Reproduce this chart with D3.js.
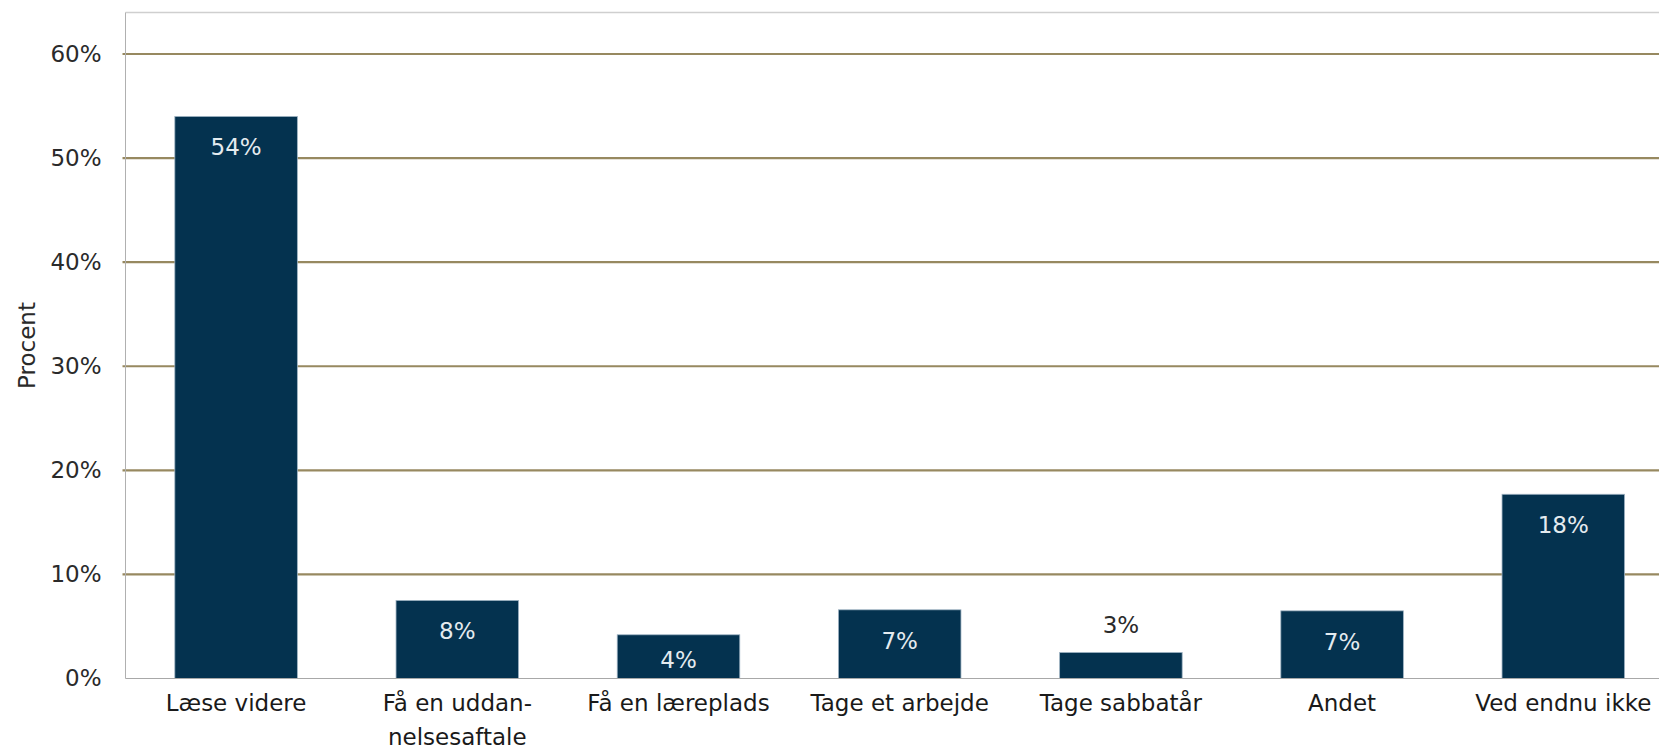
<!DOCTYPE html>
<html>
<head>
<meta charset="utf-8">
<script src="https://cdn.jsdelivr.net/npm/d3@7"></script>
<style>
  html, body { margin: 0; padding: 0; background: #fff; }
  svg { display: block; }
  text { font-family: "DejaVu Sans", Verdana, sans-serif; }
</style>
</head>
<body>
<svg id="chart" width="1659" height="752"></svg>
<script>
const categories = ["Læse videre", "Få en uddan-\nnelsesaftale", "Få en læreplads", "Tage et arbejde", "Tage sabbatår", "Andet", "Ved endnu ikke"];
const values = [54.0, 7.5, 4.2, 6.6, 2.5, 6.5, 17.7];
const valueLabels = ["54%", "8%", "4%", "7%", "3%", "7%", "18%"];
const yTicks = [0, 10, 20, 30, 40, 50, 60];
const yTickLabels = ["0%", "10%", "20%", "30%", "40%", "50%", "60%"];
const yTitle = "Procent";

const svg = d3.select("#chart");
const W = 1659, H = 752;
const plotLeft = 125.5, plotTop = 12.5, plotBottom = 678.5, step = 221.2;
const plotRight = plotLeft + step * categories.length;

const x = d3.scaleBand().domain(categories).range([plotLeft, plotRight])
  .paddingInner(0.446).paddingOuter(0.223);
const y = d3.scaleLinear().domain([0, 60]).range([plotBottom, 54]);

// top frame line
svg.append("line").attr("x1", plotLeft).attr("x2", W + 20)
  .attr("y1", plotTop).attr("y2", plotTop)
  .attr("stroke", "#cfcfcf").attr("stroke-width", 1.5);

// gridlines
const grid = svg.append("g");
grid.selectAll("line").data(yTicks.filter(d => d > 0)).join("line")
  .attr("x1", plotLeft - 3).attr("x2", W + 20)
  .attr("y1", d => y(d)).attr("y2", d => y(d))
  .attr("stroke", "#978960").attr("stroke-width", 2.2);

// y axis via d3
const yAxis = d3.axisLeft(y).tickValues(yTicks)
  .tickFormat((d, i) => yTickLabels[i]).tickSize(0).tickPadding(24);
const yg = svg.append("g").attr("transform", `translate(${plotLeft},0)`).call(yAxis);
yg.select(".domain").remove();
yg.selectAll("text").attr("font-size", 23).attr("fill", "#2a2a2a")
  .attr("font-family", "DejaVu Sans, Verdana, sans-serif");

// left axis line
svg.append("line").attr("x1", plotLeft).attr("x2", plotLeft)
  .attr("y1", plotTop).attr("y2", plotBottom)
  .attr("stroke", "#b0b0b0").attr("stroke-width", 1);

// bars
svg.append("g").selectAll("rect").data(values).join("rect")
  .attr("x", (d, i) => x(categories[i]))
  .attr("y", d => y(d))
  .attr("width", x.bandwidth())
  .attr("height", d => plotBottom - y(d))
  .attr("fill", "#04324f")
  .attr("stroke", "#9fb3c3").attr("stroke-width", 0.8);

// baseline
svg.append("line").attr("x1", plotLeft).attr("x2", W + 20)
  .attr("y1", plotBottom).attr("y2", plotBottom)
  .attr("stroke", "#a8a8a8").attr("stroke-width", 1.2);

// value labels
const inside = d => (plotBottom - y(d)) > 32;
svg.append("g").selectAll("text").data(values).join("text")
  .attr("x", (d, i) => x(categories[i]) + x.bandwidth() / 2)
  .attr("y", d => inside(d) ? Math.min(y(d) + 39, plotBottom - 11) : y(d) - 19)
  .attr("text-anchor", "middle")
  .attr("font-size", 23)
  .attr("fill", d => inside(d) ? "#e4ebef" : "#2a2a2a")
  .text((d, i) => valueLabels[i]);

// category labels
const cg = svg.append("g");
categories.forEach((c, i) => {
  const t = cg.append("text")
    .attr("x", x(c) + x.bandwidth() / 2)
    .attr("y", 711)
    .attr("text-anchor", "middle")
    .attr("font-size", 23)
    .attr("fill", "#1a1a1a");
  c.split("\n").forEach((line, j) => {
    t.append("tspan").attr("x", x(c) + x.bandwidth() / 2)
      .attr("dy", j === 0 ? 0 : 34).text(line);
  });
});

// y title
svg.append("text")
  .attr("transform", `translate(35, ${(plotTop + plotBottom) / 2}) rotate(-90)`)
  .attr("text-anchor", "middle")
  .attr("font-size", 23)
  .attr("fill", "#2a2a2a")
  .text(yTitle);
</script>
</body>
</html>
